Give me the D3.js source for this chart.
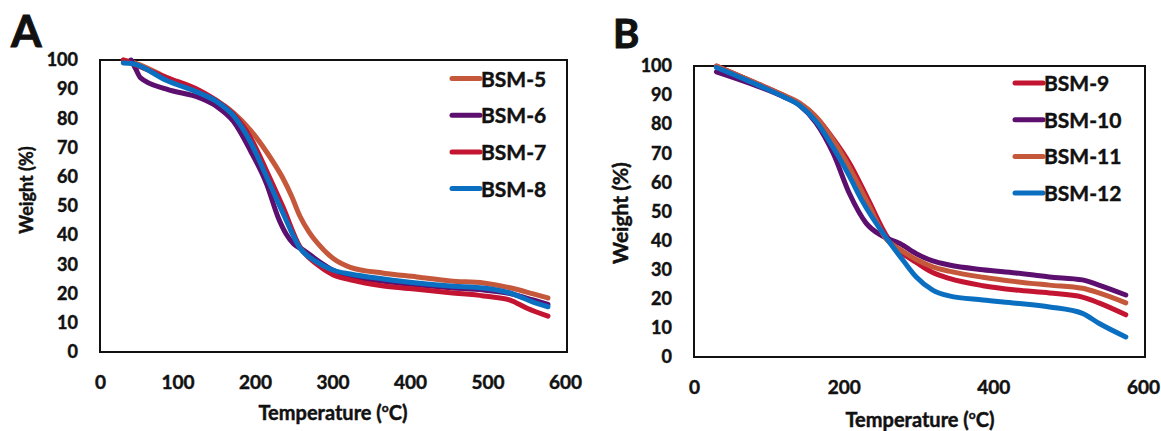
<!DOCTYPE html>
<html>
<head>
<meta charset="utf-8">
<script src="https://cdn.jsdelivr.net/npm/d3@7"></script>
<style>
  body { margin: 0; background: #fff; }
  text { font-family: Lato, "Open Sans", sans-serif; font-weight: bold; fill: #111; stroke: #111; stroke-width: 0.45px; }
</style>
</head>
<body>
<div id="chart"></div>
<script>
const width = 1161;
const height = 431;

// TGA curves, [temperature (°C), weight (%)]
const bsm5 = [[30,100],[43,99.2],[86,94],[129,89],[151,86],[172,82],[194,76],[215,68.5],[226,64],[236,59.5],[247,53.5],[258,46.5],[270,41],[280,37.5],[301,32],[323,29],[366,27],[409,25.7],[452,24.3],[495,23.6],[529,22],[559,19.9],[578,18.5]];
const bsm6 = [[40,100],[46,97],[52,94],[86,90],[129,87],[151,84],[172,79],[194,69],[215,57.5],[230,46],[240,40.5],[250,37],[262,35],[280,31.5],[301,28],[323,26],[366,24.2],[409,23],[452,22],[495,21.2],[529,20],[559,17.8],[578,16.3]];
const bsm7 = [[30,100],[86,94],[129,89.5],[151,86],[172,81.5],[194,73.5],[215,62],[236,49.7],[258,36],[280,30],[301,26.4],[323,24.7],[366,22.6],[409,21.5],[452,20.3],[495,19.2],[529,17.8],[551,15],[578,12.3]];
const bsm8 = [[30,99],[41,98.8],[86,93],[129,88.6],[151,85.7],[172,81],[194,72],[215,60],[236,47.6],[258,35.6],[280,30.8],[301,28],[323,26.7],[366,25],[409,23.6],[452,22.6],[495,21.9],[529,20.2],[559,17.1],[578,15.5]];

const bsm9 = [[30,100],[75,95],[119,90],[141,87],[163,82.5],[186,75],[208,66.5],[233,54],[259,41],[277,36],[297,32.5],[319,29],[341,27],[386,24.5],[430,23],[475,22],[519,20.6],[541,18.6],[577,14.5]];
const bsm10 = [[30,98],[75,94],[119,89.5],[141,86.5],[163,80.5],[186,70],[208,56],[230,46],[252,41.5],[275,39],[297,35.5],[319,33],[341,31.6],[386,30],[430,28.9],[475,27.5],[519,26.5],[541,24.7],[577,21.3]];
const bsm11 = [[30,100],[75,95],[119,90],[141,87.3],[163,82.5],[186,74.5],[208,65],[233,52.5],[257,40.5],[275,37],[297,33.5],[319,31],[341,29.5],[386,27.4],[430,25.9],[475,24.7],[519,23.6],[541,22],[577,18.6]];
const bsm12 = [[30,99.5],[75,94.6],[119,89.5],[141,86.5],[163,81],[186,72],[208,62],[224,54],[261,39.5],[280,33],[297,27.5],[319,23],[341,21],[386,19.6],[430,18.5],[475,17.2],[519,15],[541,11.6],[577,6.9]];

const seriesA = ["BSM-5", "BSM-6", "BSM-7", "BSM-8"];
const seriesB = ["BSM-9", "BSM-10", "BSM-11", "BSM-12"];
const xTicksA = [0, 100, 200, 300, 400, 500, 600];
const xTicksB = [0, 200, 400, 600];
const yTicks = [0, 10, 20, 30, 40, 50, 60, 70, 80, 90, 100];

const colors = {
  orange: "#c5573a",
  purple: "#5c0f6e",
  red: "#c31431",
  blue: "#0b6fc1"
};

const svg = d3.select("#chart")
  .append("svg")
  .attr("width", width)
  .attr("height", height)
  .attr("viewBox", `0 0 ${width} ${height}`);

function drawPanel(p) {
  const x = d3.scaleLinear().domain([0, 600]).range(p.xRange);
  const y = d3.scaleLinear().domain([0, 100]).range(p.yRange);
  const g = svg.append("g");

  // frame
  g.append("rect")
    .attr("x", x(0))
    .attr("y", y(100))
    .attr("width", x(600) - x(0) + 2)
    .attr("height", y(0) - y(100))
    .attr("fill", "none")
    .attr("stroke", "#111")
    .attr("stroke-width", 2);

  // curves
  const line = d3.line()
    .x(d => x(d[0]))
    .y(d => y(d[1]))
    .curve(d3.curveMonotoneX);

  g.selectAll(".curve")
    .data(p.series)
    .join("path")
    .attr("class", "curve")
    .attr("d", d => line(d.values))
    .attr("fill", "none")
    .attr("stroke", d => d.color)
    .attr("stroke-width", 5)
    .attr("stroke-linecap", "round")
    .attr("stroke-linejoin", "round");

  // Y axis labels
  const yAxis = g.append("g")
    .attr("transform", `translate(${x(0)},0)`)
    .call(d3.axisLeft(y).tickValues(yTicks).tickSize(0).tickPadding(22));
  yAxis.select(".domain").remove();
  yAxis.selectAll("text")
    .attr("font-family", "Lato")
    .attr("font-weight", "bold")
    .attr("font-size", "18px")
    .attr("fill", "#111");

  // X axis labels
  const xAxis = g.append("g")
    .attr("transform", `translate(0,${y(0)})`)
    .call(d3.axisBottom(x).tickValues(p.xTicks).tickSize(0).tickPadding(24));
  xAxis.select(".domain").remove();
  xAxis.selectAll("text")
    .attr("font-family", "Lato")
    .attr("font-weight", "bold")
    .attr("font-size", "19px")
    .attr("fill", "#111");

  // axis titles
  const xt = g.append("text")
    .attr("x", p.xTitle[0])
    .attr("y", p.xTitle[1])
    .attr("text-anchor", "middle")
    .attr("font-size", "20px");
  xt.append("tspan").text("Temperature (");
  xt.append("tspan").text("o").attr("font-size", "12px").attr("dy", "-8");
  xt.append("tspan").text("C)").attr("dy", "8");

  g.append("text")
    .attr("transform", `translate(${p.yTitle[0]},${p.yTitle[1]}) rotate(-90)`)
    .attr("text-anchor", "middle")
    .attr("dy", "0.35em")
    .attr("font-size", p.yTitleSize)
    .text("Weight (%)");

  // panel letter
  g.append("text")
    .attr("x", p.letter[0])
    .attr("y", p.letter[1])
    .attr("font-size", p.letterSize)
    .attr("font-weight", 900)
    .style("stroke-width", "1px")
    .text(p.name);

  // legend
  const legend = g.append("g")
    .attr("transform", `translate(${p.legend[0]},${p.legend[1]})`);
  const items = legend.selectAll(".legend-item")
    .data(p.series)
    .join("g")
    .attr("class", "legend-item")
    .attr("transform", (d, i) => `translate(0,${i * 36.7})`);
  items.append("line")
    .attr("x1", 0)
    .attr("x2", 28)
    .attr("stroke", d => d.color)
    .attr("stroke-width", 5)
    .attr("stroke-linecap", "round");
  items.append("text")
    .attr("x", 29)
    .attr("y", 8)
    .attr("font-size", "21px")
    .text(d => d.key);
}

drawPanel({
  name: "A",
  xRange: [100, 565],
  yRange: [352, 60],
  xTicks: xTicksA,
  xTitle: [333, 420],
  yTitle: [27, 190],
  yTitleSize: "18px",
  letter: [11, 47],
  letterSize: "44px",
  legend: [452, 78.5],
  series: [
    { key: seriesA[0], values: bsm5, color: colors.orange },
    { key: seriesA[1], values: bsm6, color: colors.purple },
    { key: seriesA[2], values: bsm7, color: colors.red },
    { key: seriesA[3], values: bsm8, color: colors.blue }
  ]
});

drawPanel({
  name: "B",
  xRange: [694, 1143],
  yRange: [357, 66],
  xTicks: xTicksB,
  xTitle: [920, 427],
  yTitle: [621, 213],
  yTitleSize: "21px",
  letter: [613, 48],
  letterSize: "40px",
  legend: [1015, 83],
  series: [
    { key: seriesB[0], values: bsm9, color: colors.red },
    { key: seriesB[1], values: bsm10, color: colors.purple },
    { key: seriesB[2], values: bsm11, color: colors.orange },
    { key: seriesB[3], values: bsm12, color: colors.blue }
  ]
});
</script>
</body>
</html>
